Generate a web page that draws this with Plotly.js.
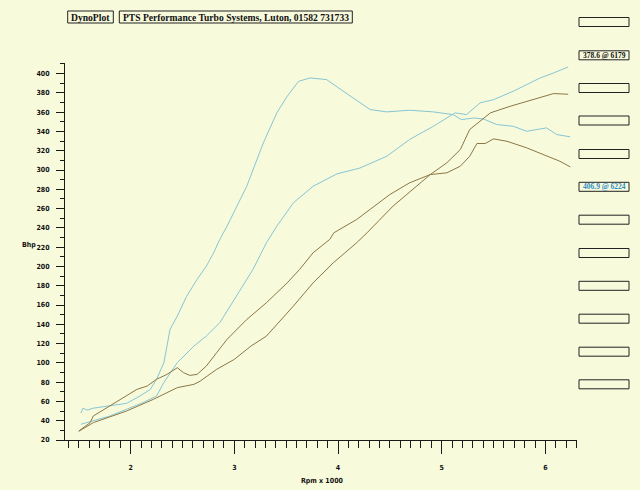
<!DOCTYPE html>
<html>
<head>
<meta charset="utf-8">
<script src="https://cdn.plot.ly/plotly-3.0.1.min.js"></script>
<style>html,body{margin:0;padding:0;background:#F8FADC;}#chart{width:640px;height:490px;}</style>
</head>
<body>
<div id="chart"></div>
<script>
// ---- data (rpm x 1000, Bhp scale) ----
const blueTorqueRpm = [1.52,1.54,1.58,1.64,1.80,1.96,2.09,2.19,2.25,2.32,2.35,2.38,2.45,2.54,2.64,2.73,2.80,2.86,2.93,3.12,3.28,3.41,3.51,3.62,3.73,3.89,4.02,4.21,4.31,4.47,4.69,4.92,5.11,5.19,5.31,5.40,5.53,5.69,5.82,6.01,6.11,6.24];
const blueTorqueVal = [48,53,51,53,55.5,58,65.6,72.5,83,100,117,134.7,148.5,169,186.5,200.3,214,228,241.8,283.2,328.2,359.3,376.5,392,395.5,393.8,384,369.6,362.7,360.3,362,360.3,357.5,352.3,354,353,347.2,345.4,340.2,343.7,336.8,334.4];

const bluePowerRpm = [1.52,1.64,1.80,1.96,2.12,2.25,2.32,2.45,2.61,2.73,2.86,3.02,3.18,3.31,3.41,3.57,3.76,3.99,4.21,4.47,4.69,4.92,5.13,5.24,5.37,5.50,5.69,5.82,5.95,6.08,6.22];
const bluePowerVal = [36.3,39.7,44.9,51.8,58.8,65.6,79.5,100.2,117.4,127.8,141.7,169.2,196.9,224.6,241.8,266,283.2,296,302,314.3,331.6,345.4,359.3,357.5,369.6,373,381.7,388.6,395.5,400.7,406.9];

const brownTorqueRpm = [1.50,1.61,1.64,1.80,1.96,2.06,2.16,2.25,2.35,2.45,2.51,2.57,2.64,2.73,2.83,2.93,3.12,3.31,3.51,3.63,3.76,3.92,3.96,4.18,4.50,4.69,4.89,5.05,5.18,5.27,5.34,5.42,5.50,5.63,5.82,6.01,6.14,6.24];
const brownTorqueVal = [29.3,38,44.9,55.2,65.6,72.5,76,83,88,95,89.8,87,88,96.7,110.6,124.4,145,162.4,183,196.9,214.2,228,234.9,248.7,274.6,286.7,295.3,297.1,304,314.3,327.5,327.5,332.3,329.8,323,314.3,309.1,303.3];

const brownPowerRpm = [1.50,1.64,1.96,2.22,2.45,2.61,2.67,2.83,3.00,3.16,3.31,3.57,3.76,3.955,4.18,4.28,4.53,4.76,4.89,5.05,5.18,5.27,5.37,5.47,5.66,5.88,6.08,6.22];
const brownPowerVal = [29,38,50,62.2,74.3,77.7,81,93.3,103.6,117.4,127.8,158.9,183,203.8,224.6,234.9,262.5,283.2,295.3,307.5,321.3,342,350.6,359.3,366.1,373,379.3,378.6];

const xTickVals = [2,3,4,5,6];
const xTickText = ['2','3','4','5','6'];
const yTickVals = [20,40,60,80,100,120,140,160,180,200,220,240,260,280,300,320,340,360,380,400];
const yTickText = yTickVals.map(String);

const headerTexts = ['DynoPlot', 'PTS Performance Turbo Systems, Luton, 01582 731733'];
const peakLabels = ['', '378.6 @ 6179', '', '', '', '406.9 @ 6224', '', '', '', '', '', ''];

// ---- layout helpers (pixel -> paper) ----
const L = 65, R = 577, T = 63, B = 440;
const W = R - L, H = B - T;
const px = p => (p - L) / W;
const py = p => (B - p) / H;

const BG = '#F8FADC';
const BLUE = '#86C6D4';
const BROWN = '#8A7746';
const AX = '#1a1a1a';
const tickFont = {family: '"DejaVu Sans Condensed","Liberation Sans Narrow","Liberation Sans",sans-serif', size: 7, color: '#111', weight: 'bold'};
const serif = '"Liberation Serif","DejaVu Serif",serif';

const traces = [
  {x: bluePowerRpm, y: bluePowerVal, mode: 'lines', line: {color: BLUE, width: 1}},
  {x: blueTorqueRpm, y: blueTorqueVal, mode: 'lines', line: {color: BLUE, width: 1}},
  {x: brownPowerRpm, y: brownPowerVal, mode: 'lines', line: {color: BROWN, width: 1}},
  {x: brownTorqueRpm, y: brownTorqueVal, mode: 'lines', line: {color: BROWN, width: 1}}
];

const shapes = [];
const annotations = [];

// header boxes
const headerBoxes = [[67.7, 113.3], [119.3, 352.3]];
headerBoxes.forEach((b, i) => {
  shapes.push({type: 'rect', xref: 'paper', yref: 'paper', x0: px(b[0]), x1: px(b[1]), y0: py(23), y1: py(11),
    line: {color: '#222', width: 1}, fillcolor: 'rgba(0,0,0,0)'});
  annotations.push({xref: 'paper', yref: 'paper', x: px((b[0] + b[1]) / 2), y: py(17.5), text: headerTexts[i],
    showarrow: false, xanchor: 'center', yanchor: 'middle',
    font: {family: serif, size: 9.6, weight: 'bold', color: '#111'}});
});

// right-hand boxes
const boxCenters = [22, 55.3, 88, 120.5, 154, 186.8, 219.7, 253, 285.8, 318.7, 351.7, 384.3];
boxCenters.forEach((c, i) => {
  shapes.push({type: 'rect', xref: 'paper', yref: 'paper', x0: px(579), x1: px(629), y0: py(c + 4.5), y1: py(c - 4.5),
    line: {color: '#222', width: 1}, fillcolor: 'rgba(0,0,0,0)'});
  if (peakLabels[i]) {
    annotations.push({xref: 'paper', yref: 'paper', x: px(604), y: py(c), text: peakLabels[i], showarrow: false,
      xanchor: 'center', yanchor: 'middle',
      font: {family: serif, size: 7.5, weight: 'bold', color: i === 5 ? '#2F8FC4' : '#111'}});
  }
});

annotations.push({xref: 'paper', yref: 'paper', x: px(29), y: py(245), text: 'Bhp', showarrow: false,
  xanchor: 'center', yanchor: 'middle', font: tickFont});
annotations.push({xref: 'paper', yref: 'paper', x: px(322), y: py(481), text: 'Rpm x 1000', showarrow: false,
  xanchor: 'center', yanchor: 'middle', font: tickFont});

const layout = {
  width: 640, height: 490,
  margin: {l: L, r: 640 - R, t: T, b: 490 - B, pad: 0},
  paper_bgcolor: BG, plot_bgcolor: BG,
  showlegend: false,
  xaxis: {range: [1.367, 6.305], tickmode: 'array', tickvals: xTickVals, ticktext: xTickText,
    showline: true, linecolor: AX, linewidth: 1, ticks: 'outside', ticklen: 13, tickcolor: AX, tickwidth: 1,
    showgrid: false, zeroline: false, tickfont: tickFont, ticklabelstandoff: 8,
    minor: {tick0: 0, dtick: 0.1, ticks: 'outside', ticklen: 7, tickcolor: AX, tickwidth: 1, showgrid: false}},
  yaxis: {range: [20, 411], tickmode: 'array', tickvals: yTickVals, ticktext: yTickText,
    showline: true, linecolor: AX, linewidth: 1, ticks: 'outside', ticklen: 8, tickcolor: AX, tickwidth: 1,
    showgrid: false, zeroline: false, tickfont: tickFont, ticklabelstandoff: 5,
    minor: {tick0: 0, dtick: 10, ticks: 'outside', ticklen: 4, tickcolor: AX, tickwidth: 1, showgrid: false}},
  shapes: shapes,
  annotations: annotations
};

Plotly.newPlot('chart', traces, layout, {staticPlot: true, displayModeBar: false});
</script>
</body>
</html>
